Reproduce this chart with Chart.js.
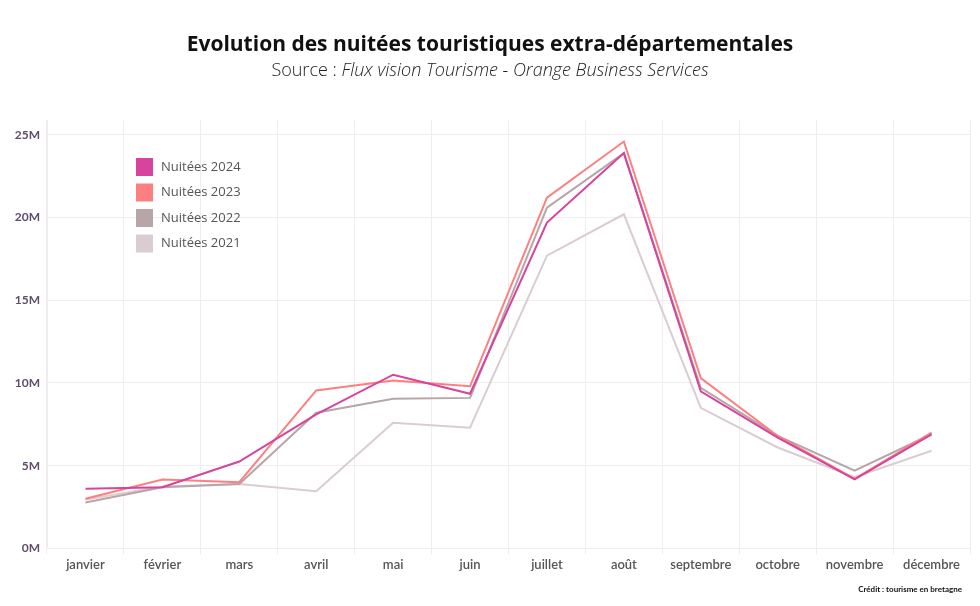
<!DOCTYPE html>
<html>
<head>
<meta charset="utf-8">
<script src="https://cdn.jsdelivr.net/npm/chart.js@4.4.1/dist/chart.umd.min.js"></script>
<style>
  html, body { margin: 0; padding: 0; background: #fff; }
  #wrap { position: relative; width: 980px; height: 606px; }
  #title { position: absolute; top: 29px; left: 0; width: 980px; text-align: center;
           font: bold 21px "Open Sans", sans-serif; color: #111; }
  #subtitle { position: absolute; top: 57px; left: 0; width: 980px; text-align: center;
              font: 300 18px "Open Sans", sans-serif; color: #222; }
  #subtitle i { font-style: italic; }
  #credit { position: absolute; top: 584px; right: 18px;
            font: bold 8px Lato, sans-serif; color: #111; }
  canvas { position: absolute; top: 0; left: 0; }
</style>
</head>
<body>
<div id="wrap">
  <canvas id="chart" width="980" height="606"></canvas>
  <div id="title">Evolution des nuitées touristiques extra-départementales</div>
  <div id="subtitle">Source : <i>Flux vision Tourisme - Orange Business Services</i></div>
  <div id="credit">Crédit : tourisme en bretagne</div>
</div>
<script>
// months on the x axis
const months = ['janvier', 'février', 'mars', 'avril', 'mai', 'juin',
                'juillet', 'août', 'septembre', 'octobre', 'novembre', 'décembre'];

// nights, in millions
const nuitees2024 = [3.6, 3.7, 5.25, 8.1, 10.5, 9.35, 19.7, 23.9, 9.5, 6.7, 4.17, 6.9];
const nuitees2023 = [3.0, 4.17, 4.0, 9.55, 10.15, 9.8, 21.2, 24.6, 10.3, 6.8, 4.2, 7.0];
const nuitees2022 = [2.78, 3.7, 3.9, 8.2, 9.05, 9.1, 20.6, 23.9, 9.7, 6.8, 4.7, 6.9];
const nuitees2021 = [2.95, 3.75, 3.9, 3.45, 7.6, 7.3, 17.7, 20.2, 8.5, 6.1, 4.3, 5.9];

const yTicks = [0, 5, 10, 15, 20, 25];

const gridColor = '#f0edf0';

// legend drawn inside the plot, top-left
const innerLegend = {
    id: 'innerLegend',
    afterDraw(chart) {
        const ctx = chart.ctx;
        ctx.save();
        ctx.font = '13px "Open Sans", sans-serif';
        ctx.textBaseline = 'middle';
        chart.data.datasets.forEach((ds, i) => {
            const y = 167 + i * 25.5;
            ctx.fillStyle = ds.borderColor;
            ctx.fillRect(136, y - 9, 17, 18);
            ctx.fillStyle = '#555';
            ctx.fillText(ds.label, 161, y);
        });
        ctx.restore();
    }
};

new Chart(document.getElementById('chart').getContext('2d'), {
    type: 'line',
    data: {
        labels: months,
        datasets: [
            { label: 'Nuitées 2024', data: nuitees2024, borderColor: '#d6449e' },
            { label: 'Nuitées 2023', data: nuitees2023, borderColor: '#fe7f7f' },
            { label: 'Nuitées 2022', data: nuitees2022, borderColor: '#b7a5a7' },
            { label: 'Nuitées 2021', data: nuitees2021, borderColor: '#d9ccd3' }
        ]
    },
    options: {
        responsive: false,
        animation: false,
        elements: {
            line: { borderWidth: 2, tension: 0 },
            point: { radius: 0 }
        },
        layout: { padding: { top: 120, right: 10, bottom: 30, left: 0 } },
        plugins: {
            legend: { display: false },
            tooltip: { enabled: false }
        },
        scales: {
            x: {
                offset: true,
                grid: { offset: true, color: gridColor, tickLength: 6 },
                border: { color: gridColor },
                ticks: {
                    color: '#555',
                    font: { family: 'Lato', size: 13, weight: '600' },
                    maxRotation: 0,
                    autoSkip: false
                }
            },
            y: {
                min: 0,
                max: 25.9,
                afterBuildTicks: (scale) => {
                    scale.ticks = [{ value: 25.9 }].concat(yTicks.map(v => ({ value: v })));
                },
                afterFit: (scale) => { scale.width = 47; },
                grid: {
                    color: (c) => (c.tick && c.tick.value === 25.9) ? 'rgba(0,0,0,0)' : gridColor,
                    drawTicks: false
                },
                border: { color: gridColor },
                ticks: {
                    padding: 7,
                    color: '#5e4d6c',
                    font: { family: 'Lato', size: 12, weight: 'bold' },
                    callback: (v) => yTicks.includes(v) ? v + 'M' : ''
                }
            }
        }
    },
    plugins: [innerLegend]
});
</script>
</body>
</html>
